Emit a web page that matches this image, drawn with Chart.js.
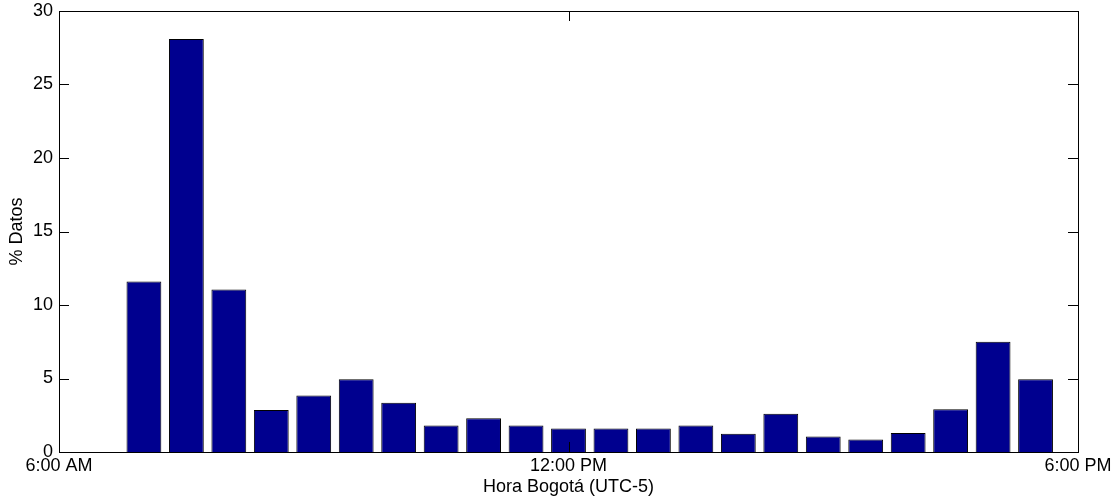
<!DOCTYPE html>
<html>
<head>
<meta charset="utf-8">
<script src="https://cdn.jsdelivr.net/npm/chart.js@4"></script>
<style>
  html, body { margin: 0; padding: 0; background: #fff; }
  #wrap { width: 1120px; height: 498px; position: relative; }
</style>
</head>
<body>
<div id="wrap"><canvas id="horaChart"></canvas></div>
<script>
/* DATA */
const horas = [7, 7.5, 8, 8.5, 9, 9.5, 10, 10.5, 11, 11.5, 12, 12.5, 13, 13.5, 14, 14.5, 15, 15.5, 16, 16.5, 17, 17.5];
const pctDatos = [11.6, 28.1, 11.05, 2.85, 3.85, 4.95, 3.35, 1.8, 2.3, 1.8, 1.6, 1.6, 1.6, 1.8, 1.25, 2.6, 1.05, 0.85, 1.3, 2.9, 7.5, 4.95];
const xTickHoras = [6, 12, 18];
const xTickLabels = ['6:00 AM', '12:00 PM', '6:00 PM'];
const yTicks = [0, 5, 10, 15, 20, 25, 30];

/* COLORS / FONT */
const barBlue = '#00008f';
const ink = '#000';
const font = { family: "'Liberation Sans', Arial, sans-serif", size: 18 };

/* PLUGIN: matlab-style box with inward ticks */
const axesBox = {
  id: 'axesBox',
  afterDraw(chart) {
    const { ctx, chartArea: a, scales } = chart;
    const x = scales.x;
    const y = scales.y;
    const len = 10;
    ctx.save();
    ctx.strokeStyle = ink;
    ctx.lineWidth = 1;
    ctx.strokeRect(Math.round(a.left) + 0.5, Math.round(a.top) + 0.5,
      Math.round(a.right - a.left), Math.round(a.bottom - a.top));
    ctx.beginPath();
    x.ticks.forEach((t) => {
      const px = Math.round(x.getPixelForValue(t.value)) + 0.5;
      ctx.moveTo(px, a.bottom); ctx.lineTo(px, a.bottom - len);
      ctx.moveTo(px, a.top); ctx.lineTo(px, a.top + len);
    });
    y.ticks.forEach((t) => {
      const py = Math.round(y.getPixelForValue(t.value)) + 0.5;
      ctx.moveTo(a.left, py); ctx.lineTo(a.left + len, py);
      ctx.moveTo(a.right, py); ctx.lineTo(a.right - len, py);
    });
    ctx.stroke();
    ctx.restore();
  },
};

new Chart(document.getElementById('horaChart'), {
  type: 'bar',
  data: {
    datasets: [
      {
        data: horas.map((h, i) => ({ x: h, y: pctDatos[i] })),
        backgroundColor: barBlue,
        borderColor: ink,
        borderWidth: 1,
        borderSkipped: 'bottom',
        categoryPercentage: 1,
        barPercentage: 0.82,
      },
    ],
  },
  options: {
    responsive: true,
    maintainAspectRatio: false,
    animation: false,
    layout: { padding: { top: 11, right: 42, left: 0, bottom: 0 } },
    scales: {
      x: {
        type: 'linear',
        min: 6,
        max: 18,
        offset: false,
        grid: { display: false, drawTicks: false, offset: false },
        border: { display: false },
        afterBuildTicks(scale) {
          scale.ticks = xTickHoras.map((v) => ({ value: v }));
        },
        afterFit(scale) {
          scale.height = 46;
          scale.paddingLeft = 0;
          scale.paddingRight = 0;
        },
        ticks: {
          color: ink,
          font,
          padding: 3,
          maxRotation: 0,
          autoSkip: false,
          callback: (v) => xTickLabels[xTickHoras.indexOf(v)],
        },
        title: {
          display: true,
          text: 'Hora Bogotá (UTC-5)',
          color: ink,
          font,
          padding: { top: 0, bottom: 0 },
        },
      },
      y: {
        min: 0,
        max: 30,
        grid: { display: false, drawTicks: false },
        border: { display: false },
        afterBuildTicks(scale) {
          scale.ticks = yTicks.map((v) => ({ value: v }));
        },
        afterFit(scale) {
          scale.width = 59;
          scale.paddingTop = 0;
          scale.paddingBottom = 0;
        },
        ticks: { color: ink, font, padding: 6 },
        title: {
          display: true,
          text: '% Datos',
          color: ink,
          font,
          padding: { top: 6, bottom: 0 },
        },
      },
    },
    plugins: {
      legend: { display: false },
      tooltip: { enabled: false },
    },
  },
  plugins: [axesBox],
});
</script>
</body>
</html>
